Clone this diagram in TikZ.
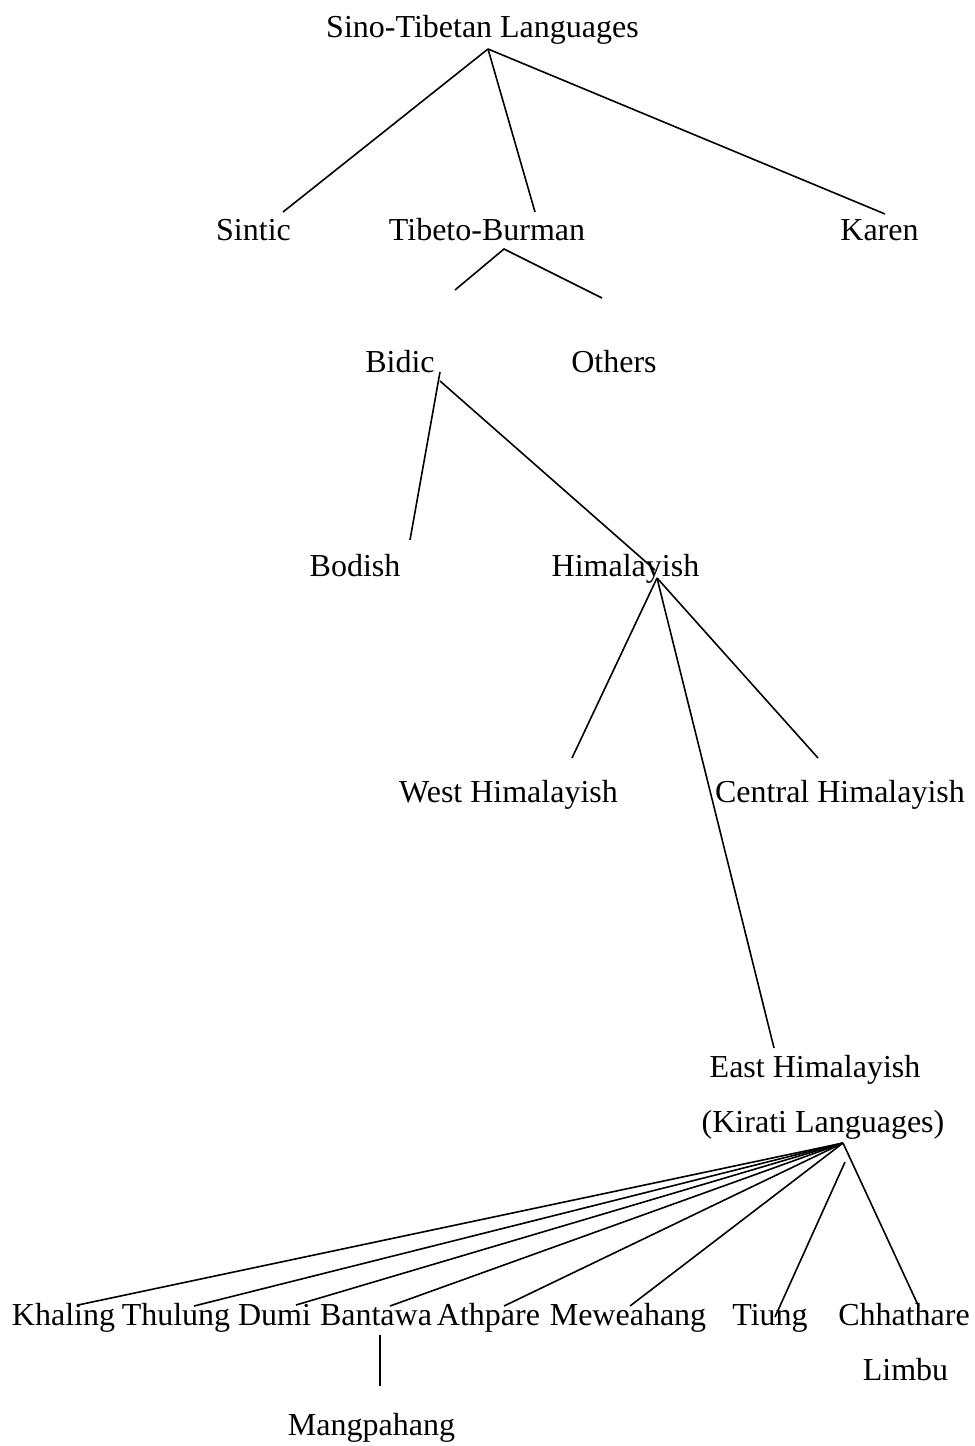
\documentclass[tikz,border=0pt]{standalone}
\usepackage{fontspec}
\setmainfont{Liberation Serif}
\begin{document}
\begin{tikzpicture}[x=0.375pt,y=-0.375pt,
  lang/.style={anchor=base,inner sep=0pt,font=\fontsize{12pt}{14pt}\selectfont},
  branch/.style={line width=0.6pt,black}]
\useasboundingbox (0,0) rectangle (974,1446);

% language names
\node[lang] (sino)    at (482.5,38)  {Sino-Tibetan Languages};
\node[lang] (sintic)  at (253.5,241) {Sintic};
\node[lang] (tb)      at (487,241)   {Tibeto-Burman};
\node[lang] (karen)   at (879.5,241) {Karen};
\node[lang] (bidic)   at (400,373)   {Bidic};
\node[lang] (others)  at (614,373)   {Others};
\node[lang] (bodish)  at (355,576)   {Bodish};
\node[lang] (him)     at (625.5,576) {Himalayish};
\node[lang] (westh)   at (508.5,802) {West Himalayish};
\node[lang] (centh)   at (840,802)   {Central Himalayish};
\node[lang] (easth)   at (815,1077)  {East Himalayish};
\node[lang] (kirati)  at (823,1132)  {(Kirati Languages)};
\node[lang] (khaling) at (63.5,1325) {Khaling};
\node[lang] (thulung) at (176,1325)  {Thulung};
\node[lang] (dumi)    at (274.5,1325){Dumi};
\node[lang] (bantawa) at (376,1325)  {Bantawa};
\node[lang] (athpare) at (488.5,1325){Athpare};
\node[lang] (mewea)   at (628,1325)  {Meweahang};
\node[lang] (tiung)   at (770,1325)  {Tiung};
\node[lang] (chhat)   at (904,1325)  {Chhathare};
\node[lang] (limbu)   at (905.5,1380){Limbu};
\node[lang] (mangp)   at (371.5,1435){Mangpahang};

% line ends
\coordinate (sinoTop)  at (488,49);
\coordinate (sinticE)  at (283,212);
\coordinate (tbE)      at (535,212);
\coordinate (karenE)   at (885,214);
\coordinate (tbTop)    at (504,249);
\coordinate (bidicE)   at (455,290);
\coordinate (othersE)  at (602,298);
\coordinate (bidicTop) at (440,372);
\coordinate (bidicR)   at (440,381);
\coordinate (bodishE)  at (410,540);
\coordinate (himE)     at (655,570);
\coordinate (himTop)   at (657,578);
\coordinate (westE)    at (572,758);
\coordinate (centE)    at (818,758);
\coordinate (eastE)    at (774,1048);
\coordinate (kirTop)   at (843,1143);
\coordinate (khalingE) at (78,1305);
\coordinate (thulungE) at (194,1306);
\coordinate (dumiE)    at (296,1305);
\coordinate (bantawaE) at (390,1306);
\coordinate (athpareE) at (504,1306);
\coordinate (meweaE)   at (630,1306);
\coordinate (tiungTop) at (845,1162);
\coordinate (tiungE)   at (775,1317);
\coordinate (chhatE)   at (918,1305);
\coordinate (mangTop)  at (380,1335);
\coordinate (mangE)    at (380,1386);

% branches
\draw[branch] (sinoTop) -- (sinticE);
\draw[branch] (sinoTop) -- (tbE);
\draw[branch] (sinoTop) -- (karenE);
\draw[branch] (bidicE) -- (tbTop) -- (othersE);
\draw[branch] (bidicTop) -- (bodishE);
\draw[branch] (bidicR) -- (himE);
\draw[branch] (himTop) -- (westE);
\draw[branch] (himTop) -- (eastE);
\draw[branch] (himTop) -- (centE);
\foreach \e in {khalingE,thulungE,dumiE,bantawaE,athpareE,meweaE,chhatE}
  \draw[branch] (kirTop) -- (\e);
\draw[branch] (tiungTop) -- (tiungE);
\draw[branch] (mangTop) -- (mangE);
\end{tikzpicture}
\end{document}
